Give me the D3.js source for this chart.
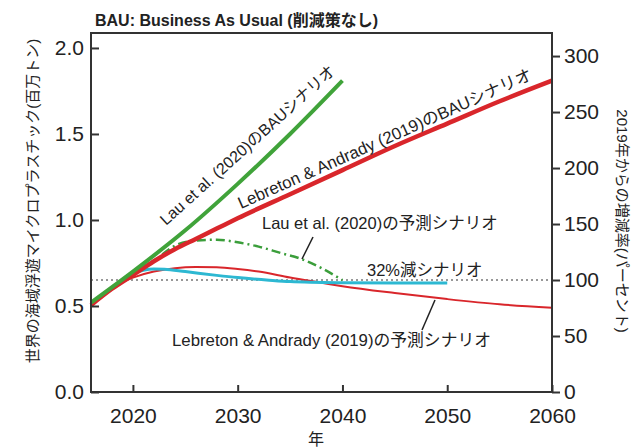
<!DOCTYPE html>
<html><head><meta charset="utf-8">
<script src="https://cdn.jsdelivr.net/npm/d3@7"></script>
<style>
html,body{margin:0;padding:0;background:#fff;}
svg{display:block;}
text{font-family:"Liberation Sans",Arial,"Noto Sans CJK JP",sans-serif;fill:#222;}
</style></head>
<body>
<svg id="c" width="637" height="448"></svg>
<script>
// ---- data ----
const xTicks = [2020, 2030, 2040, 2050, 2060];
const yTicksLeft = [0, 0.5, 1.0, 1.5, 2.0];
const yTicksRight = [0, 50, 100, 150, 200, 250, 300];

const lauBAUYears  = [2016,2020,2025,2030,2035,2040];
const lauBAUValues = [0.52,0.70,0.94,1.21,1.50,1.81];

const lebBAUYears  = [2016,2018,2020,2022,2024,2026,2028,2030,2035,2040,2045,2050,2055,2060];
const lebBAUValues = [0.505,0.60,0.68,0.76,0.83,0.89,0.95,1.01,1.15,1.29,1.43,1.56,1.69,1.81];

const lauPredYears  = [2022.8,2024,2026,2028,2030,2032,2034,2036,2038,2040];
const lauPredValues = [0.80,0.85,0.88,0.885,0.87,0.845,0.81,0.775,0.72,0.65];

const lebPredYears  = [2019,2020,2022,2024,2026,2028,2030,2032,2035,2038,2040,2045,2050,2055,2060];
const lebPredValues = [0.64,0.665,0.70,0.72,0.727,0.725,0.715,0.70,0.665,0.635,0.615,0.575,0.54,0.51,0.49];

const cut32Years  = [2019,2020,2021,2022,2023,2025,2028,2030,2033,2035,2040,2045,2050];
const cut32Values = [0.651,0.69,0.708,0.715,0.714,0.70,0.678,0.665,0.65,0.642,0.635,0.633,0.633];

const baseline2019 = 0.651; // = 100 %

const titleText = "BAU: Business As Usual (削減策なし)";
const yLeftTitle = "世界の海域浮遊マイクロプラスチック(百万トン)";
const yRightTitle = "2019年からの増減率(パーセント)";
const xTitle = "年";

// ---- layout ----
const L = 91, R = 552, T = 33, B = 392;
const svg = d3.select("#c");
const x = d3.scaleLinear().domain([2016, 2060]).range([L, R]);
const y = d3.scaleLinear().domain([0, 2.087]).range([B, T]);
const yR = d3.scaleLinear().domain([0, 2.087 / baseline2019 * 100]).range([B, T]);

const line = d3.line().x(d => x(d[0])).y(d => y(d[1])).curve(d3.curveMonotoneX);
const zip = (a, b) => a.map((v, i) => [v, b[i]]);

// reference dotted line
svg.append("line").attr("x1", L).attr("x2", R)
  .attr("y1", y(baseline2019)).attr("y2", y(baseline2019))
  .attr("stroke", "#777").attr("stroke-width", 1.6).attr("stroke-dasharray", "2,3");

// series
svg.append("path").datum(zip(lebPredYears, lebPredValues)).attr("d", line)
  .attr("fill", "none").attr("stroke", "#d9262b").attr("stroke-width", 2);
svg.append("path").datum(zip(cut32Years, cut32Values)).attr("d", line)
  .attr("fill", "none").attr("stroke", "#2db8d2").attr("stroke-width", 3);
svg.append("path").datum(zip(lauPredYears, lauPredValues)).attr("d", line)
  .attr("fill", "none").attr("stroke", "#3b9e3b").attr("stroke-width", 2.5)
  .attr("stroke-dasharray", "9,4,2,4");
svg.append("path").datum(zip(lebBAUYears, lebBAUValues)).attr("d", line)
  .attr("fill", "none").attr("stroke", "#d9262b").attr("stroke-width", 4.5);
svg.append("path").datum(zip(lauBAUYears, lauBAUValues)).attr("d", line)
  .attr("fill", "none").attr("stroke", "#40a33a").attr("stroke-width", 4);

// frame
svg.append("rect").attr("x", L).attr("y", T).attr("width", R - L).attr("height", B - T)
  .attr("fill", "none").attr("stroke", "#333").attr("stroke-width", 2);

// axes
const axL = svg.append("g").attr("transform", `translate(${L},0)`)
  .call(d3.axisLeft(y).tickValues(yTicksLeft).tickFormat(d3.format(".1f")).tickSize(-8).tickPadding(7));
const axB = svg.append("g").attr("transform", `translate(0,${B})`)
  .call(d3.axisBottom(x).tickValues(xTicks).tickFormat(d3.format("d")).tickSize(-7).tickPadding(16));
const axR = svg.append("g").attr("transform", `translate(${R},0)`)
  .call(d3.axisRight(yR).tickValues(yTicksRight).tickSize(8).tickPadding(4));
[axL, axB, axR].forEach(g => {
  g.select(".domain").remove();
  g.selectAll("line").attr("stroke", "#333").attr("stroke-width", 2);
  g.selectAll("text").attr("font-size", 21).attr("fill", "#222")
    .attr("font-family", "'Liberation Sans',Arial,sans-serif");
});

// titles
svg.append("text").attr("x", 95).attr("y", 26).attr("font-size", 16).attr("font-weight", "bold")
  .text(titleText);
svg.append("text").attr("transform", "translate(38,201) rotate(-90)").attr("text-anchor", "middle")
  .attr("font-size", 15).text(yLeftTitle);
svg.append("text").attr("transform", "translate(617,221) rotate(90)").attr("text-anchor", "middle")
  .attr("font-size", 15).text(yRightTitle);
svg.append("text").attr("x", 316).attr("y", 445).attr("text-anchor", "middle")
  .attr("font-size", 16).text(xTitle);

// annotations
const ann = (t, tr, fs) => svg.append("text").attr("transform", tr).attr("font-size", fs).text(t);
ann("Lau et al. (2020)のBAUシナリオ", "translate(166,226) rotate(-42)", 16);
ann("Lebreton & Andrady (2019)のBAUシナリオ", "translate(241,209) rotate(-24)", 16.8);
ann("Lau et al. (2020)の予測シナリオ", "translate(262,229)", 16.5);
ann("32%減シナリオ", "translate(367,276)", 16.5);
ann("Lebreton & Andrady (2019)の予測シナリオ", "translate(172,346)", 16.8);

// leader lines
svg.append("line").attr("x1", 313).attr("y1", 237).attr("x2", 302).attr("y2", 259)
  .attr("stroke", "#222").attr("stroke-width", 1.5);
svg.append("line").attr("x1", 435).attr("y1", 300).attr("x2", 422).attr("y2", 330)
  .attr("stroke", "#222").attr("stroke-width", 1.5);
</script>
</body></html>
